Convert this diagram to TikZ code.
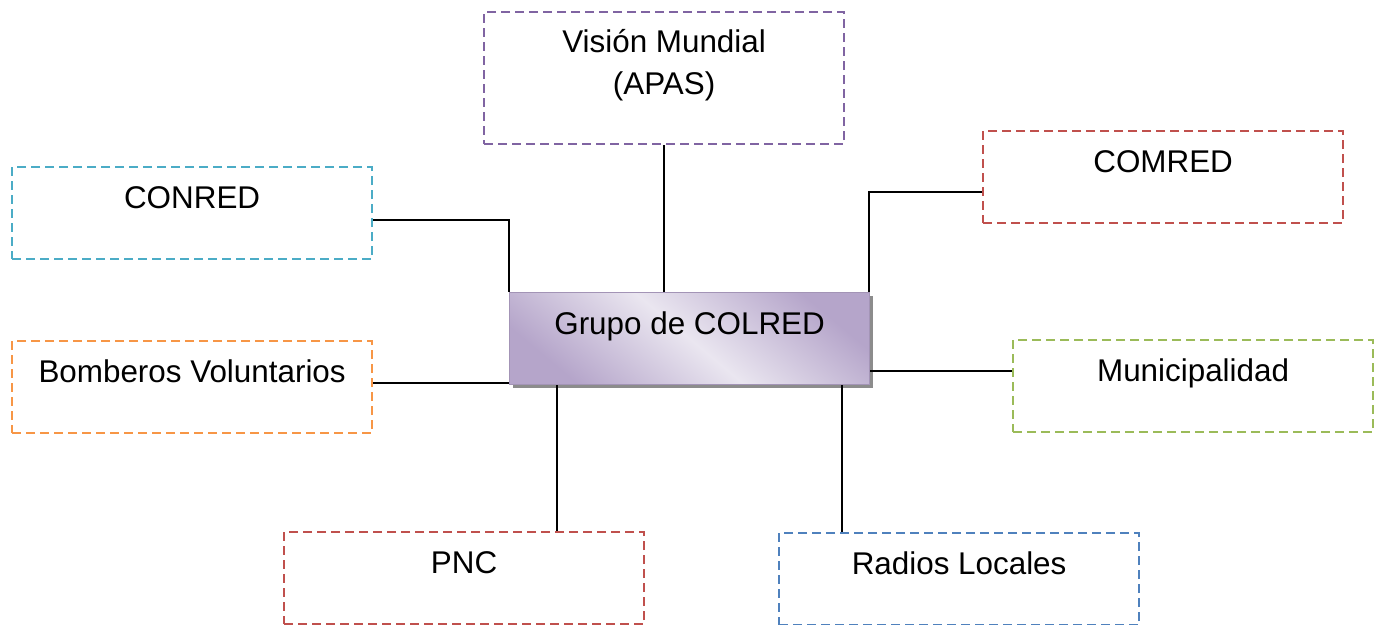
\documentclass[tikz,border=0pt]{standalone}
\usepackage{fontspec}
\setmainfont{Liberation Sans}
\usetikzlibrary{positioning,shadows}

\definecolor{lila}{HTML}{8064A2}
\definecolor{celeste}{HTML}{4BACC6}
\definecolor{rojo}{HTML}{C0504D}
\definecolor{naranja}{HTML}{F79646}
\definecolor{verde}{HTML}{9BBB59}
\definecolor{azul}{HTML}{4F81BD}
\definecolor{lilaosc}{HTML}{B5A5CA}
\definecolor{lilacla}{HTML}{EAE6F0}

\begin{document}
\begin{tikzpicture}[
	x=0.5pt, y=-0.5pt,
	font=\fontsize{15.7}{21}\selectfont,
	box/.style={rectangle, dash pattern=on 4.5pt off 2.5pt, line width=1.1pt, anchor=north west,
		minimum width=180pt, inner xsep=0pt, inner ysep=0pt, align=center,
		text height=20.75pt, text depth=25.25pt},
	main/.style={rectangle, anchor=north west, minimum width=180pt, inner xsep=0pt, inner ysep=0pt,
		text height=20.75pt, text depth=25.25pt, draw=lilaosc!90!black, line width=0.6pt,
		top color=lilaosc, bottom color=lilaosc, middle color=lilacla, shading angle=-40,
		drop shadow={shadow xshift=1.5pt, shadow yshift=-1.5pt, fill=black!45, opacity=1}},
	link/.style={line width=1pt}
	]
	\useasboundingbox (0,0) rectangle (1377,625);

		\node (colred) [main] at (509,292) {Grupo de COLRED};
			\node (vision) [box, draw=lila, text height=41.25pt, text depth=24.75pt] at (483,11) {Visión Mundial\\(APAS)};
			\node (conred) [box, draw=celeste] at (11,166) {CONRED};
			\node (comred) [box, draw=rojo] at (982,130) {COMRED};
			\node (bomberos) [box, draw=naranja] at (11,340) {Bomberos Voluntarios};
			\node (muni) [box, draw=verde] at (1012,339) {Municipalidad};
			\node (pnc) [box, draw=rojo] at (283,531) {PNC};
			\node (radios) [box, draw=azul] at (778,532) {Radios Locales};

	\coordinate (aux1) at ([yshift=-3.5pt]conred.east);
	\coordinate (aux2) at ([yshift=-7.25pt]comred.west);
	\coordinate (aux3) at ([yshift=2.25pt]bomberos.east);
	\coordinate (aux4) at ([yshift=7.75pt]muni.west);
	\coordinate (aux5) at ([xshift=24pt]colred.south west);
	\coordinate (aux6) at ([xshift=-14pt]colred.south east);

	\draw [link] (vision.south)--(vision.south |- colred.north);
	\draw [link] (aux1) -| (colred.north west);
	\draw [link] (aux2) -| ([xshift=-0.5pt]colred.north east);
	\draw [link] (aux3)--(aux3 -| colred.west);
	\draw [link] (aux4)--(aux4 -| colred.east);
	\draw [link] (aux5)--(aux5 |- pnc.north);
	\draw [link] (aux6)--(aux6 |- radios.north);

\end{tikzpicture}
\end{document}
